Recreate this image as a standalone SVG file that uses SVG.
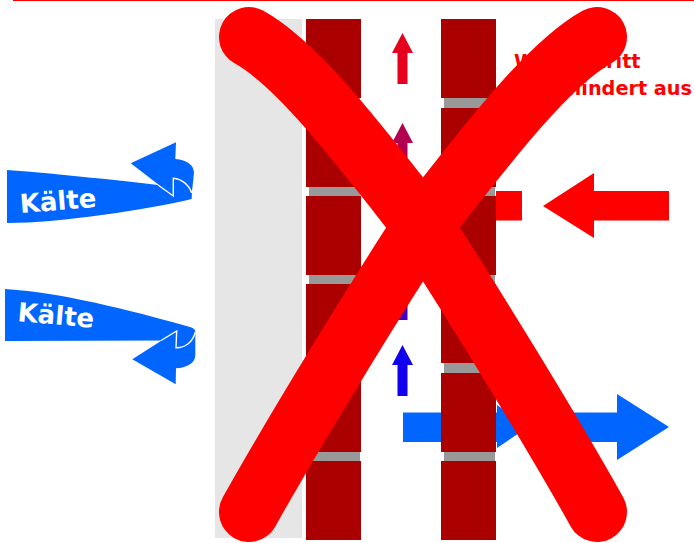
<svg xmlns="http://www.w3.org/2000/svg" width="694" height="543" viewBox="0 0 694 543">
<defs>
<style>
.brick{fill:#a00}
.mortar{fill:#999}
.kalt{fill:#06f}
.fold{fill:none;stroke:#fff;stroke-width:1.400}
.k{font-family:"DejaVu Sans",sans-serif;font-weight:bold;font-size:26px;fill:#fff}
.w{font-family:"DejaVu Sans",sans-serif;font-weight:bold;font-size:19.250px;fill:#f00}
.x{fill:none;stroke:#f00;stroke-width:60;stroke-linecap:round}
</style>
<path id="up" d="M0,0L10.500,20H5V51H-5V20H-10.500Z"/>
</defs>
<rect width="694" height="543" fill="#fff"/>
<rect x="13" y="0" width="681" height="1" fill="#f00"/>
<g id="daemmung"><rect x="215" y="19" width="87" height="519" fill="#e6e6e6"/></g>
<g id="wand-innen">
<rect class="mortar" x="309" y="98" width="51" height="10"/>
<rect class="mortar" x="309" y="187" width="51" height="10"/>
<rect class="mortar" x="309" y="275" width="51" height="10"/>
<rect class="mortar" x="309" y="363" width="51" height="10"/>
<rect class="mortar" x="309" y="452" width="51" height="10"/>
<rect class="brick" x="306" y="19" width="55" height="79"/>
<rect class="brick" x="306" y="108" width="55" height="79"/>
<rect class="brick" x="306" y="196" width="55" height="79"/>
<rect class="brick" x="306" y="284" width="55" height="79"/>
<rect class="brick" x="306" y="373" width="55" height="79"/>
<rect class="brick" x="306" y="461" width="55" height="79"/>
</g>
<g id="blau-pfeil"><path class="kalt" d="M403,412.500H497V405L528,427L497,448V442H403Z"/></g>
<g id="wand-aussen">
<rect class="mortar" x="444" y="98" width="51" height="10"/>
<rect class="mortar" x="444" y="187" width="51" height="10"/>
<rect class="mortar" x="444" y="275" width="51" height="10"/>
<rect class="mortar" x="444" y="363" width="51" height="10"/>
<rect class="mortar" x="444" y="452" width="51" height="10"/>
<rect class="brick" x="441" y="19" width="55" height="79"/>
<rect class="brick" x="441" y="108" width="55" height="79"/>
<rect class="brick" x="441" y="196" width="55" height="79"/>
<rect class="brick" x="441" y="284" width="55" height="79"/>
<rect class="brick" x="441" y="373" width="55" height="79"/>
<rect class="brick" x="441" y="461" width="55" height="79"/>
</g>
<g id="connectors">
<use href="#up" x="402.500" y="33" fill="#e6001e"/>
<use href="#up" x="402.500" y="123" fill="#b0004f"/>
<use href="#up" x="402.500" y="269" fill="#4000c0"/>
<use href="#up" x="402.500" y="345" fill="#1000ee"/>
<path class="kalt" d="M545,412.500H617V394L669,427L617,460V442H545Z"/>
<path fill="#f00" d="M496,191H522V220.500H496Z"/>
<path fill="#f00" d="M543,206L594,173V191H669V220.500H594V238Z"/>
</g>
<g id="kaelte-1">
<path class="kalt" d="M7,170C60,174 115,180 158,185L192,190L191.700,199C150,209 60,223 7,223Z"/>
<path class="kalt" d="M130.700,163.300L176,142.300L175.300,159C187,160 194,165 194,173L191.700,194L173.300,196Z"/>
<path class="fold" d="M158,185L173.300,196V178.300C182,179 189,185 191.700,193"/>
<text class="k" transform="translate(20.500,213) rotate(-4.500)">Kälte</text>
</g>
<g id="kaelte-2">
<path class="kalt" d="M5,289C70,293 150,316 190,327C193,328 195,329 195.300,331L195,340L160,340.500L5,341Z"/>
<path class="kalt" d="M132.300,359.300L176.700,331L195.300,332V355C195.700,363 186,368 176,368.300L175.700,384.300Z"/>
<path class="fold" d="M161,340.500L176.700,331L176,347.700C185,348 193,342 195.300,332"/>
<text class="k" transform="translate(17,321) rotate(5)">Kälte</text>
</g>
<g id="hinweis">
<text class="w" x="514" y="68">Wärme tritt</text>
<text class="w" x="692" y="95" text-anchor="end">verhindert aus</text>
</g>
<g id="kreuz">
<path class="x" d="M249,37C300,65 368,156 423,226C470,298 550,428 597,512"/>
<path class="x" d="M597,37C546,65 478,156 423,226C376,298 296,428 249,512"/>
</g>
</svg>
